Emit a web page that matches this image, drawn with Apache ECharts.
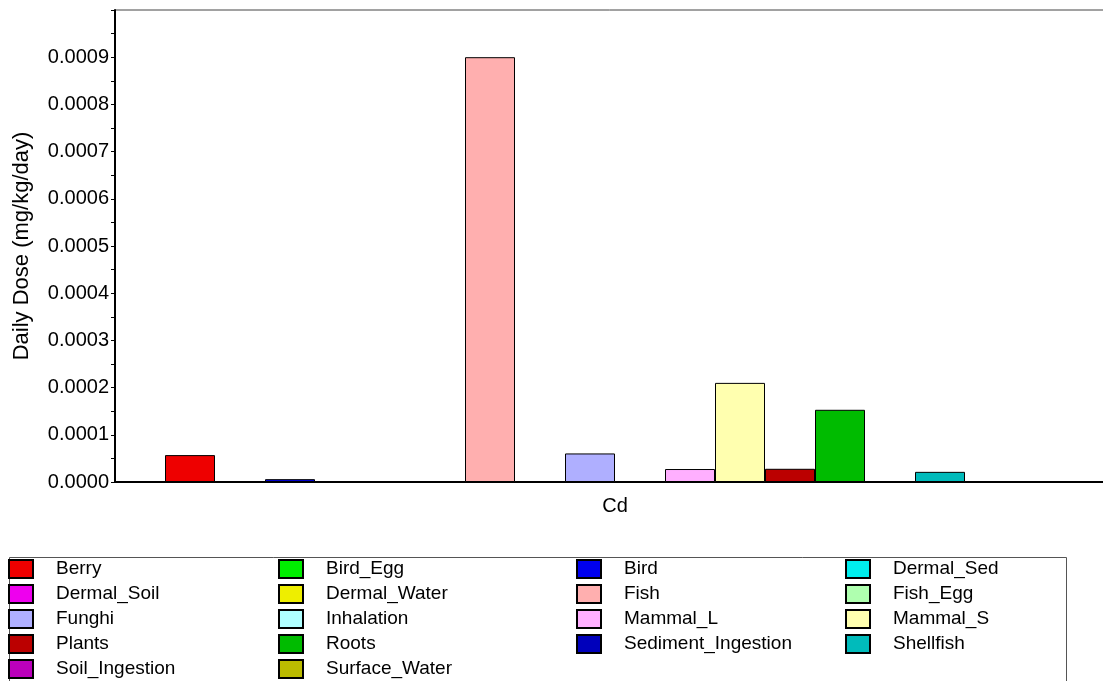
<!DOCTYPE html>
<html>
<head>
<meta charset="utf-8">
<script src="https://cdn.jsdelivr.net/npm/echarts@6/dist/echarts.min.js"></script>
<style>
html,body{margin:0;padding:0;background:#fff;}
#chart{width:1103px;height:681px;}
</style>
</head>
<body>
<div id="chart"></div>
<script>
// category and series data
var categories = ['Cd'];
var seriesNames = ['Berry', 'Bird_Egg', 'Bird', 'Dermal_Sed', 'Dermal_Soil', 'Dermal_Water',
    'Fish', 'Fish_Egg', 'Funghi', 'Inhalation', 'Mammal_L', 'Mammal_S',
    'Plants', 'Roots', 'Sediment_Ingestion', 'Shellfish', 'Soil_Ingestion', 'Surface_Water'];
var doseValues = [0.000057, 0.0000008, 0.000006, 0.0000003, 0.0000003, 0.0000003,
    0.0009, 0.0000008, 0.0000605, 0.0000008, 0.0000275, 0.00021,
    0.000028, 0.000153, 0.0000003, 0.0000215, 0.000001, 0.000001];
var seriesColors = ['#ee0000', '#00ee00', '#0000ee', '#00eeee', '#ee00ee', '#eeee00',
    '#ffafaf', '#afffaf', '#afafff', '#afffff', '#ffafff', '#ffffaf',
    '#bb0000', '#00bb00', '#0000bb', '#00bbbb', '#bb00bb', '#bbbb00'];
var yTicks = [0, 0.0001, 0.0002, 0.0003, 0.0004, 0.0005, 0.0006, 0.0007, 0.0008, 0.0009, 0.001];

// legend columns (read row by row in the original box)
var legendCols = [
    ['Berry', 'Dermal_Soil', 'Funghi', 'Plants', 'Soil_Ingestion'],
    ['Bird_Egg', 'Dermal_Water', 'Inhalation', 'Roots', 'Surface_Water'],
    ['Bird', 'Fish', 'Mammal_L', 'Sediment_Ingestion'],
    ['Dermal_Sed', 'Fish_Egg', 'Mammal_S', 'Shellfish']
];
var legendLefts = [8, 278, 576, 845];

var font = 'Arial, "Liberation Sans", sans-serif';

var series = seriesNames.map(function (name, i) {
    return {
        name: name,
        type: 'bar',
        barWidth: 50,
        barGap: '0%',
        data: [doseValues[i]],
        itemStyle: {color: seriesColors[i], borderColor: '#000', borderWidth: 1}
    };
});

var legends = legendCols.map(function (col, i) {
    return {
        orient: 'vertical',
        left: legendLefts[i],
        top: 559,
        height: 200,
        padding: 0,
        itemWidth: 24,
        itemHeight: 18,
        itemGap: 5,
        icon: 'rect',
        selectedMode: false,
        data: col,
        textStyle: {fontFamily: font, fontSize: 19, color: '#000', padding: [0, 0, 0, 18]}
    };
});

var option = {
    animation: false,
    backgroundColor: '#fff',
    grid: {
        left: 115,
        right: -12,
        top: 10,
        bottom: 199,
        outerBoundsMode: 'none',
        containLabel: false,
        show: true,
        borderColor: '#444',
        borderWidth: 1
    },
    legend: legends,
    xAxis: {
        type: 'category',
        data: categories,
        axisLine: {lineStyle: {color: '#000', width: 2}},
        axisTick: {alignWithLabel: true, length: 6, lineStyle: {color: '#000'}},
        axisLabel: {fontFamily: font, fontSize: 20, color: '#000', margin: 14}
    },
    yAxis: {
        type: 'value',
        min: 0,
        max: yTicks[yTicks.length - 1],
        interval: 0.0001,
        name: 'Daily Dose (mg/kg/day)',
        nameLocation: 'middle',
        nameGap: 82,
        nameTextStyle: {fontFamily: font, fontSize: 22, color: '#000'},
        axisLine: {show: true, lineStyle: {color: '#000', width: 2}},
        axisTick: {show: true, length: 4, lineStyle: {color: '#000'}},
        minorTick: {show: true, splitNumber: 2, length: 4, lineStyle: {color: '#000'}},
        splitLine: {show: false},
        axisLabel: {
            fontFamily: font, fontSize: 20, color: '#000', margin: 6,
            formatter: function (v) {
                return v >= 0.00095 ? '' : v.toFixed(4);
            }
        }
    },
    graphic: [{
        type: 'rect',
        left: 7,
        top: 555,
        shape: {width: 1057, height: 140},
        style: {fill: 'none', stroke: '#555', lineWidth: 1},
        silent: true
    }],
    series: series
};

var chart = echarts.init(document.getElementById('chart'));
chart.setOption(option);
</script>
</body>
</html>
